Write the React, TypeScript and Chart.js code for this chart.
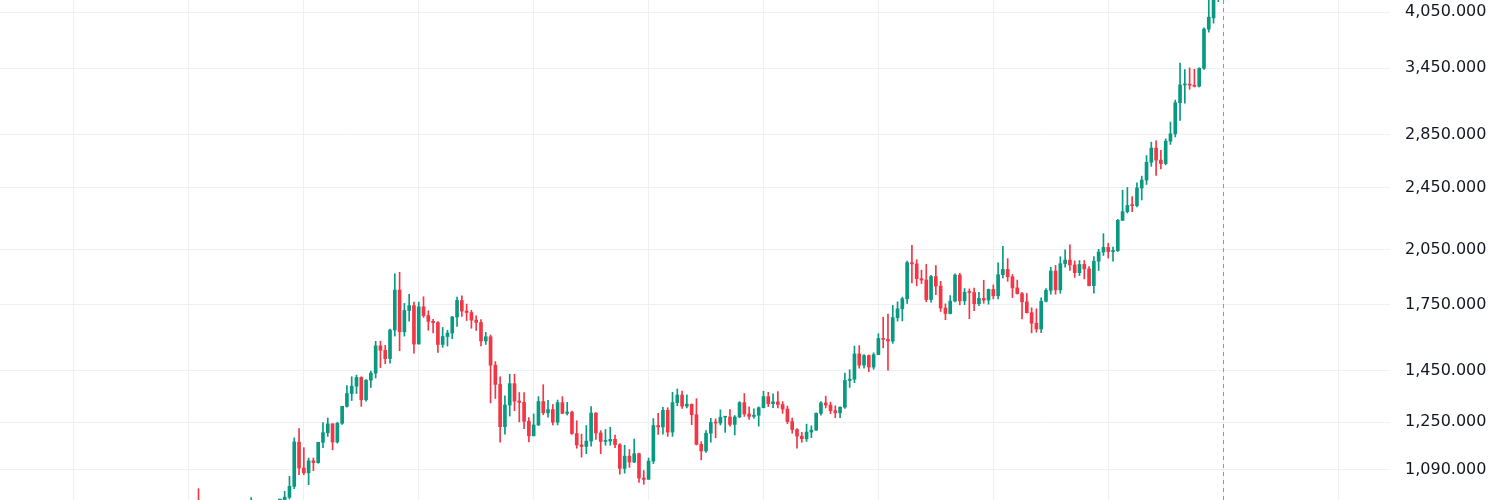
import { useEffect, useRef } from "react";
import { Chart, registerables } from "chart.js";

Chart.register(...registerables);

// Monthly gold candles, Jan 2008 – Dec 2025
const firstYear = 2008;
const lastYear = 2025;

// prettier-ignore
const open = [
  834, 923, 972, 917, 864, 886, 926, 912, 833, 880, 718, 815,
  880, 927, 942, 916, 884, 978, 926, 954, 955, 1008, 1040, 1181,
  1096, 1081, 1119, 1113, 1180, 1213, 1244, 1181, 1246, 1308, 1357, 1386,
  1421, 1333, 1410, 1439, 1556, 1536, 1500, 1628, 1826, 1620, 1722, 1746,
  1564, 1740, 1697, 1669, 1663, 1562, 1598, 1614, 1690, 1772, 1719, 1712,
  1675, 1664, 1578, 1597, 1472, 1393, 1234, 1313, 1396, 1328, 1323, 1253,
  1202, 1240, 1326, 1284, 1296, 1250, 1322, 1282, 1287, 1210, 1171, 1166,
  1184, 1283, 1212, 1183, 1184, 1190, 1172, 1095, 1134, 1115, 1142, 1065,
  1061, 1118, 1238, 1233, 1293, 1215, 1322, 1351, 1309, 1316, 1277, 1173,
  1151, 1211, 1249, 1247, 1268, 1269, 1242, 1269, 1322, 1280, 1271, 1275,
  1303, 1345, 1318, 1325, 1315, 1298, 1252, 1224, 1201, 1192, 1215, 1222,
  1282, 1321, 1313, 1292, 1284, 1305, 1409, 1414, 1520, 1472, 1513, 1464,
  1517, 1589, 1585, 1577, 1687, 1730, 1781, 1975, 1968, 1886, 1879, 1777,
  1898, 1847, 1734, 1707, 1769, 1906, 1770, 1814, 1813, 1756, 1783, 1774,
  1829, 1796, 1908, 1937, 1897, 1837, 1807, 1765, 1711, 1660, 1633, 1768,
  1824, 1928, 1827, 1969, 1990, 1962, 1919, 1965, 1940, 1849, 1983, 2036,
  2063, 2039, 2044, 2230, 2286, 2327, 2326, 2447, 2503, 2634, 2743, 2650,
  2624, 2798, 2857, 3124, 3288, 3295, 3285, 3275, 3448, 3858, 3985, 4240,
];

// prettier-ignore
const high = [
  928, 975, 1033, 930, 925, 935, 988, 915, 930, 930, 825, 885,
  930, 1007, 965, 920, 980, 990, 960, 965, 1025, 1070, 1195, 1227,
  1162, 1128, 1128, 1180, 1249, 1265, 1245, 1250, 1308, 1388, 1424, 1431,
  1424, 1412, 1447, 1576, 1577, 1558, 1632, 1913, 1921, 1757, 1803, 1764,
  1764, 1791, 1720, 1679, 1668, 1640, 1627, 1693, 1789, 1796, 1754, 1723,
  1696, 1678, 1617, 1605, 1487, 1424, 1348, 1434, 1434, 1361, 1361, 1267,
  1280, 1345, 1392, 1331, 1315, 1332, 1345, 1323, 1290, 1255, 1208, 1238,
  1307, 1285, 1220, 1224, 1232, 1205, 1176, 1170, 1156, 1191, 1144, 1088,
  1128, 1263, 1282, 1304, 1303, 1362, 1375, 1367, 1352, 1317, 1337, 1182,
  1220, 1264, 1262, 1295, 1270, 1296, 1274, 1326, 1357, 1306, 1299, 1306,
  1366, 1362, 1356, 1365, 1326, 1309, 1265, 1227, 1214, 1243, 1237, 1284,
  1326, 1347, 1324, 1310, 1306, 1439, 1453, 1555, 1557, 1517, 1516, 1525,
  1611, 1689, 1704, 1747, 1765, 1789, 1984, 2075, 1992, 1933, 1965, 1905,
  1959, 1872, 1755, 1797, 1913, 1916, 1834, 1832, 1836, 1814, 1877, 1831,
  1853, 1974, 2070, 1998, 1909, 1879, 1814, 1808, 1735, 1730, 1786, 1833,
  1949, 1959, 2009, 2049, 2079, 1985, 1987, 1987, 1953, 2009, 2052, 2146,
  2088, 2065, 2236, 2431, 2450, 2387, 2483, 2531, 2685, 2790, 2801, 2726,
  2817, 2956, 3148, 3500, 3435, 3452, 3439, 3453, 3871, 4381, 4245, 4380,
];

// prettier-ignore
const low = [
  834, 887, 906, 850, 844, 860, 900, 786, 740, 681, 705, 740,
  801, 890, 865, 865, 880, 915, 905, 930, 950, 1003, 1033, 1075,
  1075, 1045, 1088, 1111, 1162, 1200, 1155, 1177, 1242, 1305, 1330, 1357,
  1308, 1328, 1381, 1419, 1462, 1478, 1480, 1600, 1534, 1600, 1670, 1523,
  1564, 1688, 1627, 1614, 1527, 1549, 1555, 1588, 1645, 1693, 1673, 1636,
  1626, 1555, 1562, 1321, 1338, 1180, 1208, 1272, 1292, 1251, 1227, 1181,
  1202, 1238, 1277, 1268, 1240, 1240, 1281, 1276, 1207, 1160, 1131, 1142,
  1167, 1190, 1142, 1170, 1170, 1162, 1077, 1080, 1098, 1113, 1052, 1046,
  1061, 1110, 1207, 1208, 1200, 1200, 1310, 1300, 1302, 1241, 1171, 1122,
  1146, 1180, 1195, 1240, 1214, 1236, 1205, 1266, 1271, 1260, 1264, 1236,
  1302, 1307, 1303, 1302, 1282, 1245, 1211, 1160, 1180, 1183, 1196, 1221,
  1275, 1302, 1281, 1266, 1266, 1300, 1381, 1400, 1459, 1459, 1445, 1455,
  1517, 1547, 1451, 1567, 1670, 1671, 1757, 1863, 1848, 1860, 1765, 1764,
  1802, 1717, 1677, 1705, 1765, 1750, 1751, 1682, 1721, 1746, 1758, 1753,
  1780, 1780, 1890, 1872, 1787, 1805, 1681, 1709, 1615, 1618, 1616, 1765,
  1804, 1804, 1809, 1949, 1932, 1893, 1903, 1885, 1848, 1810, 1931, 2016,
  2001, 1984, 2039, 2228, 2277, 2286, 2318, 2364, 2471, 2603, 2536, 2583,
  2614, 2772, 2832, 2970, 3121, 3247, 3268, 3268, 3436, 3825, 3925, 4175,
];

// prettier-ignore
const close = [
  923, 972, 917, 864, 886, 926, 912, 833, 880, 718, 815, 880,
  927, 942, 916, 884, 978, 926, 954, 955, 1008, 1040, 1181, 1096,
  1081, 1119, 1113, 1180, 1213, 1244, 1181, 1246, 1308, 1357, 1386, 1421,
  1333, 1410, 1439, 1556, 1536, 1500, 1628, 1826, 1620, 1722, 1746, 1564,
  1740, 1697, 1669, 1663, 1562, 1598, 1614, 1690, 1772, 1719, 1712, 1675,
  1664, 1578, 1597, 1472, 1393, 1234, 1313, 1396, 1328, 1323, 1253, 1202,
  1240, 1326, 1284, 1296, 1250, 1322, 1282, 1287, 1210, 1171, 1166, 1184,
  1283, 1212, 1183, 1184, 1190, 1172, 1095, 1134, 1115, 1142, 1065, 1061,
  1118, 1238, 1233, 1293, 1215, 1322, 1351, 1309, 1316, 1277, 1173, 1151,
  1211, 1249, 1247, 1268, 1269, 1242, 1269, 1322, 1280, 1271, 1275, 1303,
  1345, 1318, 1325, 1315, 1298, 1252, 1224, 1201, 1192, 1215, 1222, 1282,
  1321, 1313, 1292, 1284, 1305, 1409, 1414, 1520, 1472, 1513, 1464, 1517,
  1589, 1585, 1577, 1687, 1730, 1781, 1975, 1968, 1886, 1879, 1777, 1898,
  1847, 1734, 1707, 1769, 1906, 1770, 1814, 1813, 1756, 1783, 1774, 1829,
  1796, 1908, 1937, 1897, 1837, 1807, 1765, 1711, 1660, 1633, 1768, 1824,
  1928, 1827, 1969, 1990, 1962, 1919, 1965, 1940, 1849, 1983, 2036, 2063,
  2039, 2044, 2230, 2286, 2327, 2326, 2447, 2503, 2634, 2743, 2650, 2624,
  2798, 2857, 3124, 3288, 3295, 3285, 3275, 3448, 3858, 3992, 4240, 4330,
];

// Price scale labels and the years that get a vertical grid line
const priceTicks = [1090, 1250, 1450, 1750, 2050, 2450, 2850, 3450, 4050];
const gridYears = [2006, 2008, 2010, 2012, 2014, 2016, 2018, 2020, 2022, 2024, 2026, 2028];
const cursorYear = 2026;

// Time axis is measured in months counted from January 2006
const baseYear = 2006;
const viewFromMonth = -15.455;
const viewToMonth = 274.85;
const priceMin = 1000;
const priceMax = 4194;

const UP = "#089981";
const DOWN = "#f23645";
const GRID = "#eef0f4";

const cursorLine = {
  id: "cursorLine",
  afterDatasetsDraw(chart: any) {
    const { ctx, chartArea } = chart;
    const x = Math.round(chart.scales.x.getPixelForValue((cursorYear - baseYear) * 12)) + 0.5;
    ctx.save();
    ctx.strokeStyle = "#9598a1";
    ctx.lineWidth = 1;
    ctx.setLineDash([4, 4]);
    ctx.beginPath();
    ctx.moveTo(x, chartArea.top);
    ctx.lineTo(x, chartArea.bottom);
    ctx.stroke();
    ctx.restore();
  },
};

export default function App() {
  const ref = useRef<HTMLCanvasElement>(null);

  useEffect(() => {
    const monthIndex: number[] = [];
    for (let y = firstYear; y <= lastYear; y++) {
      for (let m = 0; m < 12; m++) monthIndex.push((y - baseYear) * 12 + m);
    }
    const colors = close.map((c, i) => (c >= open[i] ? UP : DOWN));

    const bodies = monthIndex.map((x, i) => ({
      x,
      y: [Math.min(open[i], close[i]), Math.max(open[i], close[i])],
    }));
    const wicks = monthIndex.map((x, i) => ({ x, y: [low[i], high[i]] }));

    const chart = new Chart(ref.current as HTMLCanvasElement, {
      type: "bar",
      data: {
        datasets: [
          {
            label: "body",
            data: bodies as any,
            backgroundColor: colors,
            barThickness: 3,
            minBarLength: 1,
            grouped: false,
            order: 0,
          },
          {
            label: "wick",
            data: wicks as any,
            backgroundColor: colors,
            barThickness: 1,
            grouped: false,
            order: 1,
          },
        ],
      },
      options: {
        animation: false,
        responsive: false,
        layout: { padding: 0 },
        plugins: {
          legend: { display: false },
          tooltip: { enabled: false },
        },
        scales: {
          x: {
            type: "linear",
            min: viewFromMonth,
            max: viewToMonth,
            offset: false,
            grid: { color: GRID, drawTicks: false, offset: false },
            border: { display: false },
            ticks: { display: false },
            afterBuildTicks: (s: any) => {
              s.ticks = gridYears.map((y) => ({ value: (y - baseYear) * 12 }));
            },
            afterFit: (s: any) => {
              s.height = 0;
            },
          },
          y: {
            type: "logarithmic",
            position: "right",
            min: priceMin,
            max: priceMax,
            grid: { color: GRID, drawTicks: false },
            border: { display: false },
            ticks: {
              color: "#131722",
              padding: 15,
              font: { family: "'DejaVu Sans', sans-serif", size: 16 },
              callback: (v: any) =>
                Number(v).toLocaleString("en-US", {
                  minimumFractionDigits: 3,
                  maximumFractionDigits: 3,
                }),
            },
            afterBuildTicks: (s: any) => {
              s.ticks = priceTicks.map((v) => ({ value: v }));
            },
            afterFit: (s: any) => {
              s.width = 110;
              s.paddingTop = 0;
              s.paddingBottom = 0;
            },
          },
        },
      },
      plugins: [cursorLine],
    });

    return () => chart.destroy();
  }, []);

  return (
    <div style={{ position: "absolute", left: 0, top: 0, width: 1500, height: 500, background: "#fff" }}>
      <canvas ref={ref} width={1500} height={500} style={{ display: "block" }} />
    </div>
  );
}
